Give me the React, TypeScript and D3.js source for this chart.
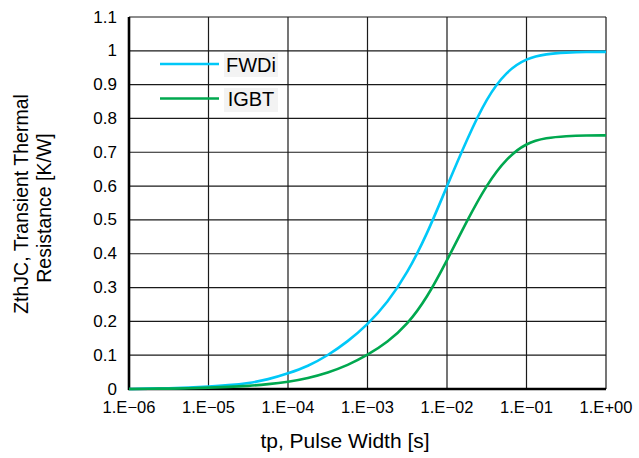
import React from "react";
import * as d3 from "d3";

const logT = [-6, -5.75, -5.5, -5.25, -5, -4.75, -4.5, -4.25, -4, -3.75, -3.5, -3.25, -3, -2.75, -2.5, -2.25, -2, -1.75, -1.5, -1.25, -1, -0.75, -0.5, -0.25, 0];
const fwdi = [0.0, 0.001, 0.002, 0.004, 0.007, 0.011, 0.017, 0.028, 0.046, 0.067, 0.099, 0.14, 0.19, 0.255, 0.342, 0.458, 0.6, 0.738, 0.862, 0.94, 0.978, 0.991, 0.995, 0.997, 0.997];
const igbt = [0.0, 0.001, 0.001, 0.002, 0.004, 0.006, 0.009, 0.014, 0.021, 0.032, 0.048, 0.07, 0.1, 0.138, 0.19, 0.27, 0.38, 0.497, 0.605, 0.683, 0.728, 0.743, 0.748, 0.75, 0.75];
const xTickLabels = ["1.E\u221206", "1.E\u221205", "1.E\u221204", "1.E\u221203", "1.E\u221202", "1.E\u221201", "1.E+00"];
const yTicks = [0, 0.1, 0.2, 0.3, 0.4, 0.5, 0.6, 0.7, 0.8, 0.9, 1, 1.1];
const seriesNames = ["FWDi", "IGBT"];
const seriesColors = ["#00c8f8", "#00a84f"];

const W = 639, H = 458;
const L = 129, R = 606, T = 17, B = 389;
const font = "Liberation Sans, Arial, sans-serif";

export default function App() {
  const x = d3.scaleLog().domain([1e-6, 1]).range([L, R]);
  const y = d3.scaleLinear().domain([0, 1.1]).range([B, T]);
  const xTicks = d3.range(-6, 1).map((k) => Math.pow(10, k));
  const line = d3
    .line<[number, number]>()
    .x((d) => x(Math.pow(10, d[0])))
    .y((d) => y(d[1]))
    .curve(d3.curveBasis);
  const series = [fwdi, igbt];

  return (
    <svg width={W} height={H} style={{ position: "absolute", left: 0, top: 0, background: "#fff" }} fontFamily={font}>
      {/* grid */}
      {yTicks.map((v) => (
        <line key={"gy" + v} x1={L} x2={R} y1={y(v)} y2={y(v)} stroke="#1a1a1a" strokeWidth={1.2} />
      ))}
      {xTicks.map((v) => (
        <line key={"gx" + v} x1={x(v)} x2={x(v)} y1={T} y2={B} stroke="#1a1a1a" strokeWidth={1.2} />
      ))}
      {/* axes */}
      <line x1={L} x2={L} y1={T} y2={B + 1} stroke="#000" strokeWidth={2.6} />
      <line x1={L - 1} x2={R} y1={B} y2={B} stroke="#000" strokeWidth={2.6} />
      {/* curves */}
      {series.map((s, i) => (
        <path
          key={seriesNames[i]}
          d={line(logT.map((k, j) => [k, s[j]] as [number, number])) || ""}
          fill="none"
          stroke={seriesColors[i]}
          strokeWidth={2.6}
        />
      ))}
      {/* y tick labels */}
      {yTicks.map((v) => (
        <text key={"ty" + v} x={117} y={y(v) + 5.5} textAnchor="end" fontSize={17} fill="#000">
          {d3.format("~g")(v)}
        </text>
      ))}
      {/* x tick labels */}
      {xTicks.map((v, i) => (
        <text key={"tx" + v} x={x(v)} y={413} textAnchor="middle" fontSize={16.5} fill="#000">
          {xTickLabels[i]}
        </text>
      ))}
      {/* axis titles */}
      <text x={345} y={448} textAnchor="middle" fontSize={21} fill="#000">
        tp, Pulse Width [s]
      </text>
      <text transform="translate(28,204) rotate(-90)" textAnchor="middle" fontSize={19.5} fill="#000">
        ZthJC, Transient Thermal
      </text>
      <text transform="translate(51,208) rotate(-90)" textAnchor="middle" fontSize={19.5} fill="#000">
        Resistance [K/W]
      </text>
      {/* legend */}
      {seriesNames.map((n, i) => (
        <g key={"lg" + n}>
          <rect x={224} y={53 + i * 35} width={54} height={24} fill="#f3f3f3" />
          <line x1={160} x2={219} y1={64 + i * 34.5} y2={64 + i * 34.5} stroke={seriesColors[i]} strokeWidth={2.6} />
          <text x={251} y={72 + i * 34.3} textAnchor="middle" fontSize={20} fill="#000">
            {n}
          </text>
        </g>
      ))}
    </svg>
  );
}
